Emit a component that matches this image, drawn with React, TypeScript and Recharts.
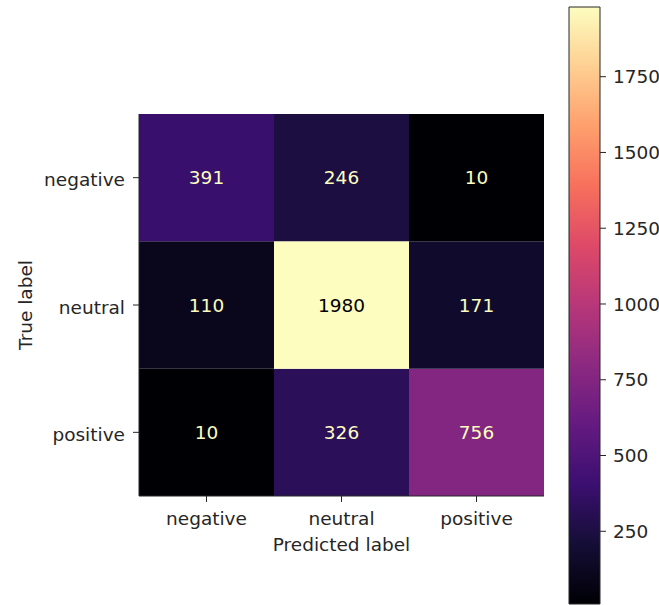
import { Bar, BarChart, Cell, LabelList, XAxis, YAxis } from 'recharts'

const predLabels = ['negative', 'neutral', 'positive']
const trueLabels = ['negative', 'neutral', 'positive']
// rows of the confusion matrix (true label), columns = predicted label
const trueNegative = [391, 246, 10]
const trueNeutral = [110, 1980, 171]
const truePositive = [10, 326, 756]
const cbTicks = [250, 500, 750, 1000, 1250, 1500, 1750]

const vmin = 10
const vmax = 1980

// magma colormap, sampled every 0.1
const magma = ['#000004', '#140e36', '#3b0f70', '#641a80', '#8c2981', '#b73779',
  '#de4968', '#f7705c', '#fe9f6d', '#fecf92', '#fcfdbf']

const FONT = '"DejaVu Sans", sans-serif'
const FS = 18.5
const INK = '#262626'

function hex(c: string) {
  return [1, 3, 5].map(i => parseInt(c.slice(i, i + 2), 16))
}

function magmaAt(v: number) {
  const t = Math.min(1, Math.max(0, (v - vmin) / (vmax - vmin))) * (magma.length - 1)
  const i = Math.min(magma.length - 2, Math.floor(t))
  const f = t - i
  const a = hex(magma[i]), b = hex(magma[i + 1])
  const c = a.map((x, k) => Math.round(x + (b[k] - x) * f))
  return `rgb(${c[0]},${c[1]},${c[2]})`
}

const rows = predLabels.map((p, j) => ({
  pred: p,
  negative: 1, neutral: 1, positive: 1,
  negativeCount: trueNegative[j],
  neutralCount: trueNeutral[j],
  positiveCount: truePositive[j],
}))

const counts: Record<string, number[]> = {
  negative: trueNegative, neutral: trueNeutral, positive: truePositive,
}

const rowTick: Record<number, string> = { 2.5: trueLabels[0], 1.5: trueLabels[1], 0.5: trueLabels[2] }

function CountLabel(props: any) {
  const { x, y, width, height, value } = props
  const fill = value > (vmax + vmin) / 2 ? magma[0] : magma[10]
  return (
    <text x={x + width / 2} y={y + height / 2} textAnchor="middle" dominantBaseline="central"
      fontFamily={FONT} fontSize={FS} fill={fill}>{value}</text>
  )
}

export default function App() {
  // bottom stack first: positive, neutral, negative
  const stackOrder = ['positive', 'neutral', 'negative']
  return (
    <div style={{ position: 'absolute', left: 0, top: 0, width: 659, height: 605, background: '#fff' }}>
      <div style={{ position: 'absolute', left: 0, top: 0 }}>
        <BarChart width={560} height={605} data={rows} barCategoryGap={0} barGap={0}
          margin={{ top: 114, right: 16, bottom: 49, left: 9 }}>
          <XAxis dataKey="pred" tickSize={6} tickMargin={10} stroke={INK}
            tick={{ fill: INK, fontFamily: FONT, fontSize: FS }} height={60}
            label={{ value: 'Predicted label', position: 'insideBottom', offset: 5, fill: INK, fontFamily: FONT, fontSize: FS }} />
          <XAxis xAxisId="top" orientation="top" dataKey="pred" tick={false} tickLine={false} height={0} stroke={INK} />
          <YAxis type="number" domain={[0, 3]} ticks={[2.5, 1.5, 0.5]} width={130} tickSize={6} tickMargin={8}
            stroke={INK} tickFormatter={(v: number) => rowTick[v]}
            tick={{ fill: INK, fontFamily: FONT, fontSize: FS, dy: 2 }}
            label={{ value: 'True label', angle: -90, position: 'insideLeft', offset: 16, fill: INK, fontFamily: FONT, fontSize: FS, style: { textAnchor: 'middle' } }} />
          <YAxis yAxisId="right" orientation="right" type="number" domain={[0, 3]} width={0}
            tick={false} tickLine={false} stroke={INK} />
          {stackOrder.map(key => (
            <Bar key={key} dataKey={key} stackId="m" isAnimationActive={false}>
              {counts[key].map((v, j) => <Cell key={j} fill={magmaAt(v)} />)}
              <LabelList dataKey={`${key}Count`} content={CountLabel} />
            </Bar>
          ))}
        </BarChart>
      </div>
      <div style={{ position: 'absolute', left: 540, top: 0 }}>
        <BarChart width={119} height={605} data={[{ name: 'cb', range: [vmin, vmax] }]}
          barCategoryGap={0} margin={{ top: 7, right: 0, bottom: 1, left: 29 }}>
          <defs>
            <linearGradient id="magmaGrad" x1="0" y1="1" x2="0" y2="0">
              {magma.map((c, i) => <stop key={i} offset={`${i * 10}%`} stopColor={c} />)}
            </linearGradient>
          </defs>
          <XAxis dataKey="name" hide />
          <YAxis orientation="right" type="number" domain={[vmin, vmax]} ticks={cbTicks} width={59}
            axisLine={false} tickSize={6} tickMargin={7} stroke={INK}
            tick={{ fill: INK, fontFamily: FONT, fontSize: FS }} />
          <Bar dataKey="range" fill="url(#magmaGrad)" stroke={INK} strokeWidth={1} isAnimationActive={false} />
        </BarChart>
      </div>
    </div>
  )
}
